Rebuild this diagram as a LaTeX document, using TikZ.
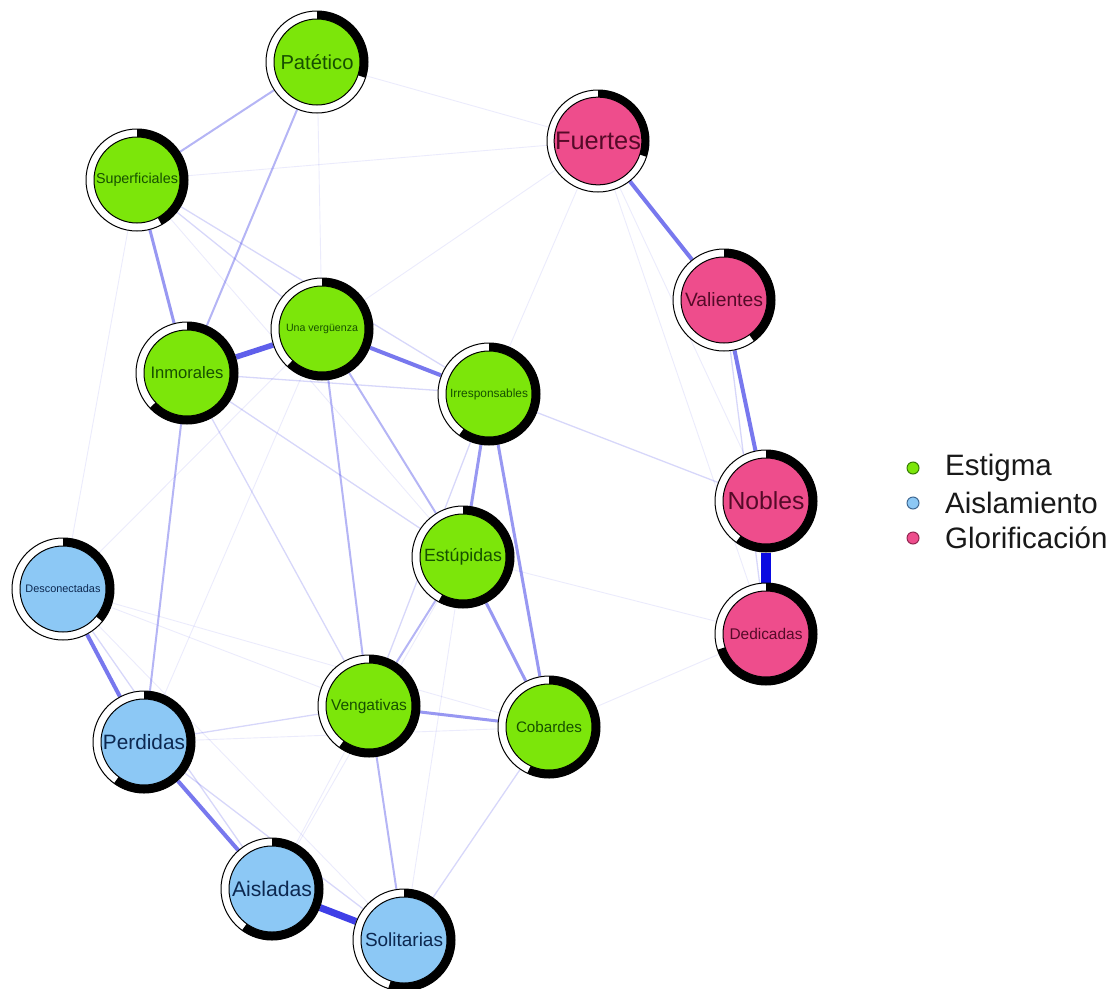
\documentclass[tikz,border=0pt]{standalone}
\usepackage{fontspec}
\setmainfont{Liberation Sans}
\usepackage{graphicx}
\pgfdeclarelayer{bg}
\pgfsetlayers{bg,main}
\definecolor{gfill}{RGB}{124,230,10}
\definecolor{bfill}{RGB}{140,200,245}
\definecolor{pfill}{RGB}{238,77,140}
\definecolor{gtext}{RGB}{22,80,0}
\definecolor{btext}{RGB}{12,40,80}
\definecolor{ptext}{RGB}{85,10,40}
\definecolor{edgeblue}{RGB}{10,10,225}
\tikzset{
  ring/.style={circle, draw=black, line width=1pt, fill=white, minimum size=102pt, inner sep=0pt},
  inner/.style={circle, draw=black, line width=1pt, minimum size=86pt, inner sep=0pt},
  e1/.style={draw=edgeblue, line width=0.9pt, draw opacity=0.08},
  e2/.style={draw=edgeblue, line width=1.3pt, draw opacity=0.16},
  e3/.style={draw=edgeblue, line width=2pt, draw opacity=0.3},
  e4/.style={draw=edgeblue, line width=3pt, draw opacity=0.42},
  e5/.style={draw=edgeblue, line width=4pt, draw opacity=0.55},
  e6/.style={draw=edgeblue, line width=5.5pt, draw opacity=0.65},
  e7/.style={draw=edgeblue, line width=7pt, draw opacity=0.78},
  e8/.style={draw=edgeblue, line width=10pt, draw opacity=1},
  legdot/.style={circle, line width=1pt, minimum size=12pt, inner sep=0pt},
  legtext/.style={anchor=west, inner sep=0pt, font=\fontsize{29.5}{30}\selectfont, text=black!90}
}
\newcommand{\qnode}[8]{%
  \node[ring] (#1) at (#2,#3) {};
  \fill[black] (#1.center) -- ++(0pt,51pt) arc[start angle=90, end angle={90-360*#4}, radius=51pt] -- cycle;
  \node[inner, fill=#5, text=#6] (#1in) at (#1.center) {\resizebox{#7pt}{!}{#8}};
}
\begin{document}
\begin{tikzpicture}[x=1pt,y=-1pt]
\useasboundingbox (0,0) rectangle (1113,988);
% nodes
\qnode{pat}{317}{62}{0.30}{gfill}{gtext}{73}{Patético}
\qnode{sup}{137}{180}{0.42}{gfill}{gtext}{82}{Superficiales}
\qnode{fue}{598}{141}{0.30}{pfill}{ptext}{86}{Fuertes}
\qnode{val}{724}{300}{0.40}{pfill}{ptext}{78}{Valientes}
\qnode{una}{322}{329}{0.62}{gfill}{gtext}{72}{Una vergüenza}
\qnode{inm}{187}{373}{0.63}{gfill}{gtext}{73}{Inmorales}
\qnode{irr}{489}{394}{0.60}{gfill}{gtext}{78}{Irresponsables}
\qnode{nob}{766}{501}{0.60}{pfill}{ptext}{77}{Nobles}
\qnode{est}{463}{557}{0.58}{gfill}{gtext}{78}{Estúpidas}
\qnode{ded}{766}{634}{0.70}{pfill}{ptext}{73}{Dedicadas}
\qnode{des}{63}{589}{0.36}{bfill}{btext}{75}{Desconectadas}
\qnode{ven}{369}{706}{0.60}{gfill}{gtext}{76}{Vengativas}
\qnode{cob}{549}{727}{0.57}{gfill}{gtext}{66}{Cobardes}
\qnode{per}{144}{742}{0.60}{bfill}{btext}{82}{Perdidas}
\qnode{ais}{272}{889}{0.60}{bfill}{btext}{80}{Aisladas}
\qnode{sol}{404}{940}{0.55}{bfill}{btext}{78}{Solitarias}
% edges
\begin{pgfonlayer}{bg}
\fill[white] (0,0) rectangle (1113,988);
\draw[e1] (pat) -- (fue);
\draw[e1] (pat) -- (una);
\draw[e1] (sup) -- (fue);
\draw[e1] (sup) -- (des);
\draw[e1] (sup) -- (est);
\draw[e1] (fue) -- (una);
\draw[e1] (fue) -- (irr);
\draw[e1] (fue) -- (nob);
\draw[e1] (fue) -- (ded);
\draw[e1] (una) -- (des);
\draw[e1] (una) -- (per);
\draw[e1] (est) -- (ded);
\draw[e1] (cob) -- (ded);
\draw[e1] (des) -- (cob);
\draw[e1] (des) -- (ven);
\draw[e1] (des) -- (sol);
\draw[e1] (per) -- (cob);
\draw[e1] (ven) -- (ais);
\draw[e1] (est) -- (sol);
\draw[e1] (est) -- (ais);
\draw[e2] (irr) -- (nob);
\draw[e2] (sup) -- (una);
\draw[e2] (sup) -- (irr);
\draw[e2] (inm) -- (irr);
\draw[e2] (inm) -- (ven);
\draw[e2] (inm) -- (est);
\draw[e2] (irr) -- (ven);
\draw[e2] (val) -- (ded);
\draw[e2] (per) -- (sol);
\draw[e2] (des) -- (ais);
\draw[e2] (ven) -- (per);
\draw[e2] (cob) -- (sol);
\draw[e3] (pat) -- (sup);
\draw[e3] (pat) -- (inm);
\draw[e3] (est) -- (ven);
\draw[e3] (ven) -- (sol);
\draw[e3] (una) -- (ven);
\draw[e3] (una) -- (est);
\draw[e3] (inm) -- (per);
\draw[e4] (irr) -- (est);
\draw[e4] (irr) -- (cob);
\draw[e4] (est) -- (cob);
\draw[e4] (ven) -- (cob);
\draw[e4] (sup) -- (inm);
\draw[e5] (una) -- (irr);
\draw[e5] (fue) -- (val);
\draw[e5] (val) -- (nob);
\draw[e5] (des) -- (per);
\draw[e5] (per) -- (ais);
\draw[e6] (inm) -- (una);
\draw[e7] (ais) -- (sol);
\draw[e8] (nob) -- (ded);
\end{pgfonlayer}
% legend
\node[legdot, fill=gfill, draw=gtext!70!gfill] (lg1) at (913,468) {};
\node[legdot, fill=bfill, draw=btext!60!bfill] (lg2) at (913,503) {};
\node[legdot, fill=pfill, draw=ptext!60!pfill] (lg3) at (913,538) {};
\node[legtext] (lt1) at (945,468) {Estigma};
\node[legtext] (lt2) at (945,503) {Aislamiento};
\node[legtext] (lt3) at (945,538) {Glorificación};
\end{tikzpicture}
\end{document}
